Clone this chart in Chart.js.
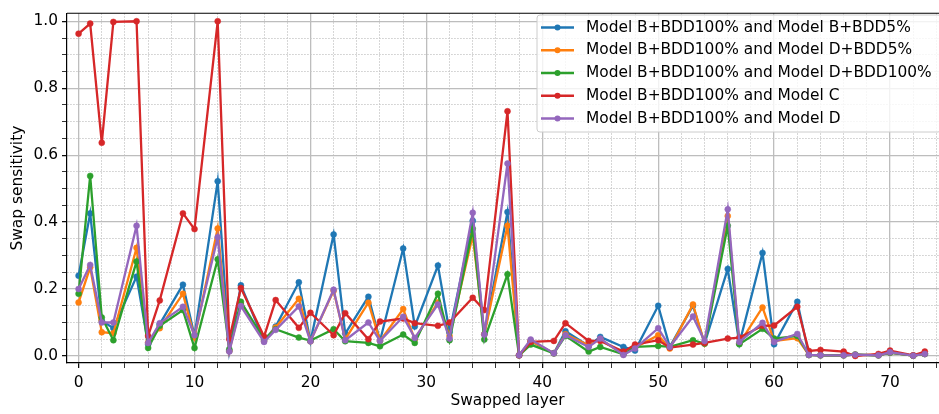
<!DOCTYPE html>
<html>
<head>
<meta charset="utf-8">
<script src="https://cdn.jsdelivr.net/npm/chart.js@4.4.1/dist/chart.umd.min.js"></script>
<style>
    html, body { margin: 0; padding: 0; background: #fff; }
    #wrap { width: 939px; height: 414px; overflow: hidden; }
</style>
</head>
<body>
<div id="wrap"><canvas id="myChart" width="960" height="414"></canvas></div>
<script>
// swapped layers (x) and sensitivity for each model pair
const layers = [0, 1, 2, 3, 5, 6, 7, 9, 10, 12, 13, 14, 16, 17, 19, 20, 22, 23, 25, 26,
    28, 29, 31, 32, 34, 35, 37, 38, 39, 41, 42, 44, 45, 47, 48, 50, 51, 53, 54, 56,
    57, 59, 60, 62, 63, 64, 66, 67, 69, 70, 72, 73];

const modelB5 = [0.24, 0.426, 0.105, 0.083, 0.237, 0.035, 0.095, 0.213, 0.06, 0.522, 0.015, 0.211, 0.045, 0.088, 0.22, 0.044, 0.363, 0.067, 0.177, 0.045,
    0.321, 0.088, 0.27, 0.071, 0.404, 0.065, 0.43, 0.002, 0.045, 0.008, 0.074, 0.03, 0.057, 0.027, 0.016, 0.15, 0.027, 0.15, 0.037, 0.26,
    0.037, 0.308, 0.035, 0.162, 0.003, 0.002, 0.002, 0.004, 0.002, 0.01, 0.001, 0.006];
const modelD5 = [0.16, 0.265, 0.071, 0.068, 0.323, 0.04, 0.083, 0.186, 0.055, 0.381, 0.015, 0.155, 0.045, 0.085, 0.171, 0.044, 0.195, 0.05, 0.159, 0.045,
    0.14, 0.05, 0.16, 0.06, 0.36, 0.065, 0.389, 0.002, 0.045, 0.008, 0.065, 0.032, 0.05, 0.005, 0.025, 0.062, 0.022, 0.154, 0.037, 0.418,
    0.037, 0.145, 0.045, 0.053, 0.003, 0.002, 0.002, 0.004, 0.002, 0.01, 0.001, 0.006];
const modelD100 = [0.186, 0.538, 0.115, 0.047, 0.282, 0.024, 0.09, 0.137, 0.024, 0.289, 0.02, 0.162, 0.05, 0.08, 0.055, 0.046, 0.08, 0.044, 0.039, 0.029,
    0.064, 0.039, 0.186, 0.047, 0.38, 0.049, 0.244, 0.002, 0.034, 0.008, 0.06, 0.013, 0.027, 0.005, 0.027, 0.03, 0.027, 0.047, 0.037, 0.389,
    0.035, 0.081, 0.052, 0.06, 0.003, 0.002, 0.002, 0.004, 0.002, 0.01, 0.001, 0.006];
const modelC = [0.963, 0.993, 0.637, 0.998, 1.0, 0.06, 0.166, 0.426, 0.379, 1.0, 0.05, 0.203, 0.058, 0.167, 0.084, 0.129, 0.062, 0.128, 0.05, 0.103,
    0.112, 0.098, 0.09, 0.1, 0.174, 0.137, 0.731, 0.002, 0.042, 0.045, 0.098, 0.045, 0.045, 0.013, 0.034, 0.047, 0.025, 0.034, 0.039, 0.052,
    0.055, 0.09, 0.091, 0.147, 0.015, 0.018, 0.013, 0.0, 0.006, 0.016, 0.002, 0.013];
const modelD = [0.2, 0.272, 0.1, 0.1, 0.389, 0.039, 0.098, 0.147, 0.062, 0.355, 0.013, 0.149, 0.042, 0.078, 0.148, 0.044, 0.198, 0.047, 0.1, 0.045,
    0.117, 0.054, 0.154, 0.052, 0.428, 0.064, 0.575, 0.002, 0.049, 0.008, 0.062, 0.027, 0.052, 0.003, 0.022, 0.083, 0.027, 0.118, 0.045, 0.438,
    0.042, 0.099, 0.042, 0.066, 0.003, 0.002, 0.002, 0.004, 0.002, 0.011, 0.001, 0.006];

const seriesLabels = [
    'Model B+BDD100% and Model B+BDD5%',
    'Model B+BDD100% and Model D+BDD5%',
    'Model B+BDD100% and Model D+BDD100%',
    'Model B+BDD100% and Model C',
    'Model B+BDD100% and Model D'
];
const seriesValues = [modelB5, modelD5, modelD100, modelC, modelD];
const seriesColors = ['#1f77b4', '#ff7f0e', '#2ca02c', '#d62728', '#9467bd'];

const xMajorTicks = [0, 10, 20, 30, 40, 50, 60, 70];
const yMajorTicks = [0, 0.2, 0.4, 0.6, 0.8, 1.0];

function isMajorX(v) {
    return xMajorTicks.includes(v);
}
function isMajorY(v) {
    return yMajorTicks.some(m => Math.abs(m - v) < 1e-9);
}

Chart.defaults.font.family = 'DejaVu Sans';
Chart.defaults.font.size = 15.4;
Chart.defaults.color = '#000';

// matplotlib-ish legend box in the upper right + top spine
const mplLegend = {
    id: 'mplLegend',
    afterDraw(chart) {
        const ctx = chart.ctx;
        const area = chart.chartArea;

        ctx.save();
        ctx.strokeStyle = '#000';
        ctx.lineWidth = 1.2;
        ctx.beginPath();
        ctx.moveTo(area.left, area.top);
        ctx.lineTo(area.right, area.top);
        ctx.stroke();

        const bx = 537, by = 15, bw = area.right - 7 - bx, bh = 117;
        ctx.beginPath();
        ctx.roundRect(bx, by, bw, bh, 3);
        ctx.fillStyle = 'rgba(255,255,255,0.8)';
        ctx.fill();
        ctx.strokeStyle = '#cccccc';
        ctx.lineWidth = 1;
        ctx.stroke();

        ctx.font = '15.4px "DejaVu Sans"';
        ctx.textBaseline = 'middle';
        ctx.textAlign = 'left';
        seriesLabels.forEach(function(label, i) {
            const y = 27.5 + i * 22.75;
            ctx.strokeStyle = seriesColors[i];
            ctx.lineWidth = 2.3;
            ctx.beginPath();
            ctx.moveTo(541, y);
            ctx.lineTo(574, y);
            ctx.stroke();
            ctx.fillStyle = seriesColors[i];
            ctx.beginPath();
            ctx.arc(557.5, y, 3, 0, Math.PI * 2);
            ctx.fill();
            ctx.fillStyle = '#000';
            ctx.fillText(label, 586, y);
        });
        ctx.restore();
    }
};

function mychart() {
    const ctx = document.getElementById('myChart');

    const datasets = seriesValues.map(function(vals, i) {
        return {
            label: seriesLabels[i],
            data: layers.map((x, j) => ({x: x, y: vals[j]})),
            borderColor: seriesColors[i],
            backgroundColor: seriesColors[i],
            pointBackgroundColor: seriesColors[i],
            pointBorderColor: seriesColors[i],
            borderWidth: 2.3,
            pointRadius: 3,
            pointBorderWidth: 0.5,
            tension: 0,
            order: seriesValues.length - i
        };
    });

    new Chart(ctx, {
        type: 'line',
        data: { datasets: datasets },
        plugins: [mplLegend],
        options: {
            responsive: false,
            animation: false,
            layout: { padding: { left: 0, top: 7, right: 12, bottom: 0 } },
            plugins: {
                legend: { display: false },
                tooltip: { enabled: false }
            },
            scales: {
                x: {
                    type: 'linear',
                    min: -1,
                    max: 75,
                    afterBuildTicks: function(axis) {
                        const t = [];
                        for (let v = 0; v <= 74; v += 2) t.push({value: v});
                        axis.ticks = t;
                    },
                    afterFit: function(scale) { scale.height = 51; },
                    ticks: {
                        autoSkip: false,
                        maxRotation: 0,
                        padding: 6,
                        callback: function(value) { return isMajorX(value) ? String(value) : ''; }
                    },
                    grid: {
                        color: c => (c.tick && isMajorX(c.tick.value)) ? '#bdbdbd' : '#c4c4c4',
                        lineWidth: c => (c.tick && isMajorX(c.tick.value)) ? 1.3 : 0.9,
                        tickColor: '#000',
                        tickWidth: c => (c.tick && isMajorX(c.tick.value)) ? 1.2 : 0.8,
                        tickLength: 5
                    },
                    border: {
                        color: '#000',
                        width: 1.2,
                        dash: c => (c.tick && !isMajorX(c.tick.value)) ? [1.5, 1.5] : []
                    },
                    title: {
                        display: true,
                        text: 'Swapped layer',
                        padding: { top: 0, bottom: 4 }
                    }
                },
                y: {
                    type: 'linear',
                    min: -0.021,
                    max: 1.024,
                    afterBuildTicks: function(axis) {
                        const t = [];
                        for (let k = 0; k <= 20; k++) t.push({value: Math.round(k * 5) / 100});
                        axis.ticks = t;
                    },
                    afterFit: function(scale) { scale.width = 67; },
                    ticks: {
                        autoSkip: false,
                        padding: 4,
                        callback: function(value) { return isMajorY(value) ? value.toFixed(1) : ''; }
                    },
                    grid: {
                        color: c => (c.tick && isMajorY(c.tick.value)) ? '#bdbdbd' : '#c4c4c4',
                        lineWidth: c => (c.tick && isMajorY(c.tick.value)) ? 1.3 : 0.9,
                        tickColor: '#000',
                        tickWidth: c => (c.tick && isMajorY(c.tick.value)) ? 1.2 : 0.8,
                        tickLength: 5
                    },
                    border: {
                        color: '#000',
                        width: 1.2,
                        dash: c => (c.tick && !isMajorY(c.tick.value)) ? [1.5, 1.5] : []
                    },
                    title: {
                        display: true,
                        text: 'Swap sensitivity',
                        padding: { top: 9, bottom: 0 }
                    }
                }
            }
        }
    });
}

document.addEventListener('DOMContentLoaded', function() {
    mychart();
});
</script>
</body>
</html>
